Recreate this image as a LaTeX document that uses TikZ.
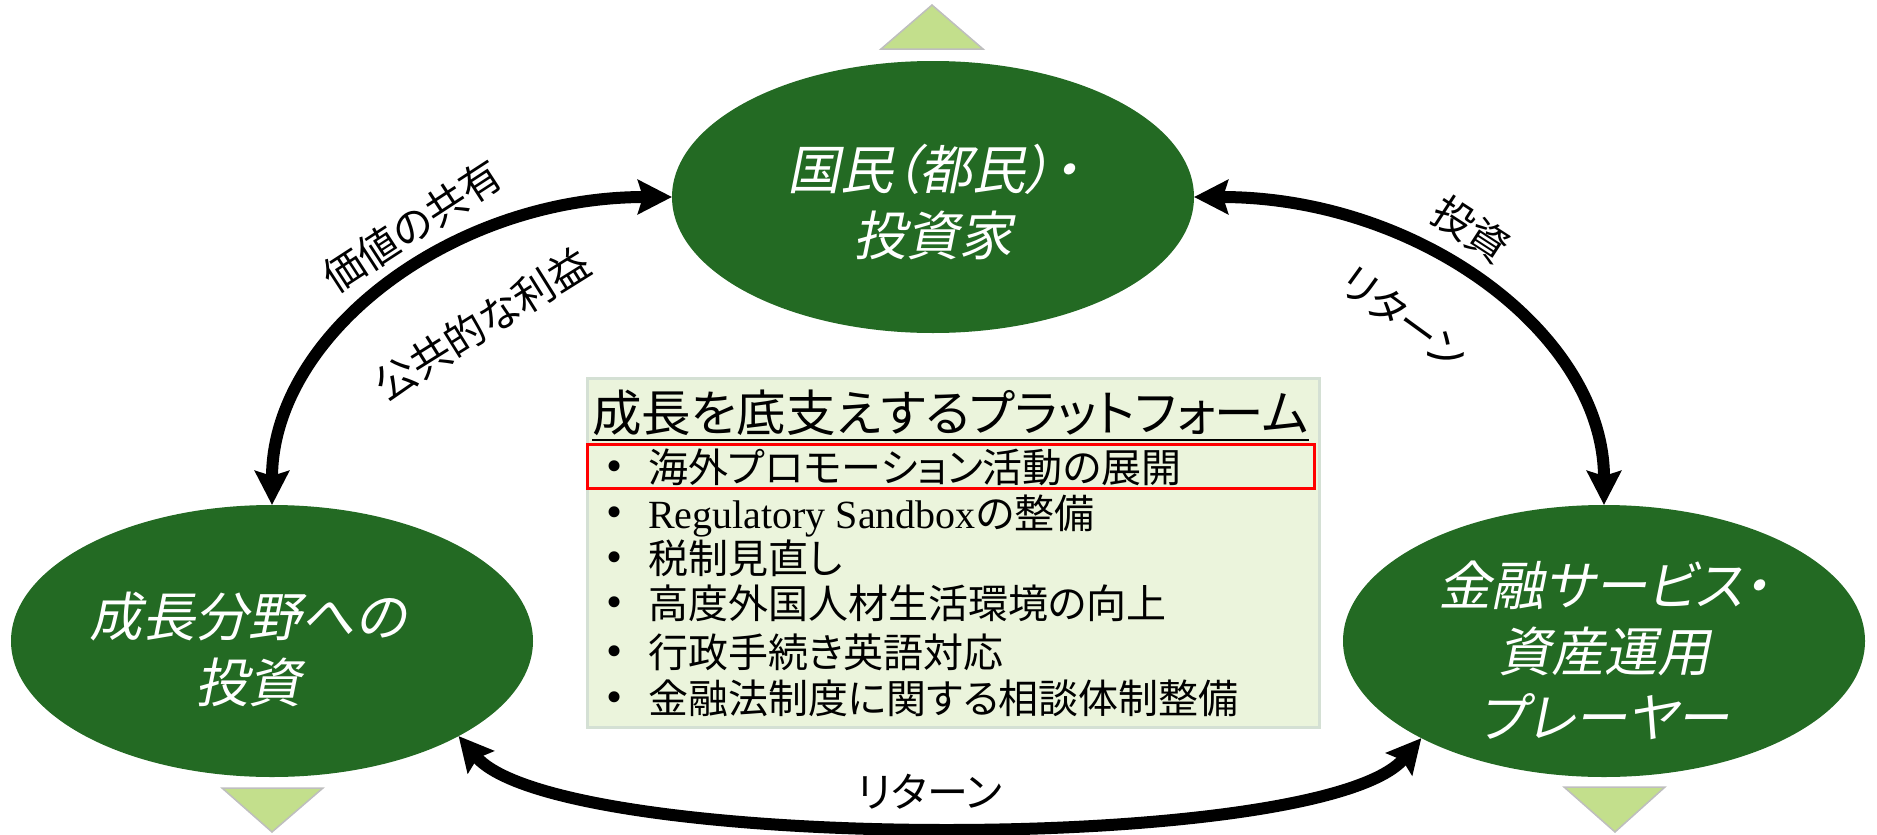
\documentclass[tikz,border=0pt]{standalone}
\usepackage{fontspec}
\setmainfont{Liberation Serif}
\newfontfamily\jpf[RawFeature=+palt]{Noto Sans CJK JP}
\newfontfamily\jpsl[RawFeature=+palt,FakeSlant=0.2]{Noto Sans CJK JP}
\newfontfamily\latf{Liberation Serif}
\usetikzlibrary{shapes.geometric,arrows.meta}
\definecolor{dgreen}{RGB}{35,106,35}
\definecolor{trifill}{RGB}{195,223,140}
\definecolor{trigray}{RGB}{190,190,190}
\definecolor{boxfill}{RGB}{235,244,220}
\definecolor{boxline}{RGB}{212,224,212}
\definecolor{hlred}{RGB}{255,0,0}
\tikzset{
 oval/.style={ellipse, fill=dgreen, draw=none, minimum width=522pt, minimum height=272pt, inner sep=0pt, outer sep=0pt},
 ovaltext/.style={text=white, align=center, font=\jpsl\fontsize{53}{66}\selectfont, inner sep=0pt},
 tri/.style={fill=trifill, draw=trigray, line width=1.5pt, line join=miter},
 flow/.style={line width=12pt, {Stealth[length=34pt,width=34pt,inset=5pt]}-{Stealth[length=34pt,width=34pt,inset=5pt]}},
 lbl/.style={font=\jpf\fontsize{41}{50}\selectfont, inner sep=0pt},
 item/.style={anchor=base west, font=\jpf\fontsize{40}{46}\selectfont, inner sep=0pt},
 dot/.style={anchor=base, font=\latf\fontsize{46}{46}\selectfont, inner sep=0pt},
}
\begin{document}
\begin{tikzpicture}[x=1pt,y=-1pt]
\useasboundingbox (0,0) rectangle (1877,835);
% triangles
\path[tri] (881,49) -- (932,5) -- (983,49) -- cycle;
\path[tri] (222,788) -- (323,788) -- (272,832) -- cycle;
\path[tri] (1564,787) -- (1665,787) -- (1615,832) -- cycle;
% ellipses
\node[oval] (top) at (933,197) {};
\node[oval] (left) at (272,641) {};
\node[oval] (right) at (1604,641) {};
\node[ovaltext] (topT) at (933,202) {国民（都民）・\\投資家};
\node[ovaltext] (leftT) at (248,649) {成長分野への\\投資};
\node[ovaltext] (rightT) at (1604,650) {金融サービス・\\資産運用\\プレーヤー};
% platform box
\node[draw=boxline, fill=boxfill, line width=3pt, minimum width=732pt, minimum height=349pt, inner sep=0pt] (pbox) at (953,552.5) {};
\node[anchor=base west, inner sep=0pt, font=\jpf\fontsize{49.5}{56}\selectfont] (title) at (592,431) {成長を底支えするプラットフォーム};
\draw[line width=2.5pt] ([yshift=-9pt]title.base west) -- ([yshift=-9pt]title.base east);
\node[draw=hlred, line width=3pt, minimum width=727pt, minimum height=44pt, inner sep=0pt] (hl) at (950.5,466) {};
\node[dot] (b1) at (615,481) {•};
\node[dot] (b2) at (615,527) {•};
\node[dot] (b3) at (615,572) {•};
\node[dot] (b4) at (615,617) {•};
\node[dot] (b5) at (615,666) {•};
\node[dot] (b6) at (615,712) {•};
\node[item] (i1) at (648,482) {海外プロモーション活動の展開};
\node[item] (i2) at (648,528) {{\latf Regulatory Sandbox}の整備};
\node[item] (i3) at (648,573) {税制見直し};
\node[item] (i4) at (648,618) {高度外国人材生活環境の向上};
\node[item] (i5) at (648,667) {行政手続き英語対応};
\node[item] (i6) at (648,713) {金融法制度に関する相談体制整備};
% connectors
\draw[flow] (top.west) .. controls +(-221,0) and +(0,-170) .. (left.north);
\draw[flow] (top.east) .. controls +(226,0) and +(0,-170) .. (right.north);
\draw[flow] (left.-27.5) .. controls +(100,117) and +(-100,117) .. (right.-152.5);
% labels
\node[lbl, rotate=33] (l1) at (412,226) {価値の共有};
\node[lbl, rotate=32] (l2) at (482,324) {公共的な利益};
\node[lbl, rotate=-33] (r1) at (1471,229) {投資};
\node[lbl, rotate=-36] (r2) at (1404,318) {リターン};
\node[lbl] (bret) at (930,792) {リターン};
\end{tikzpicture}
\end{document}
